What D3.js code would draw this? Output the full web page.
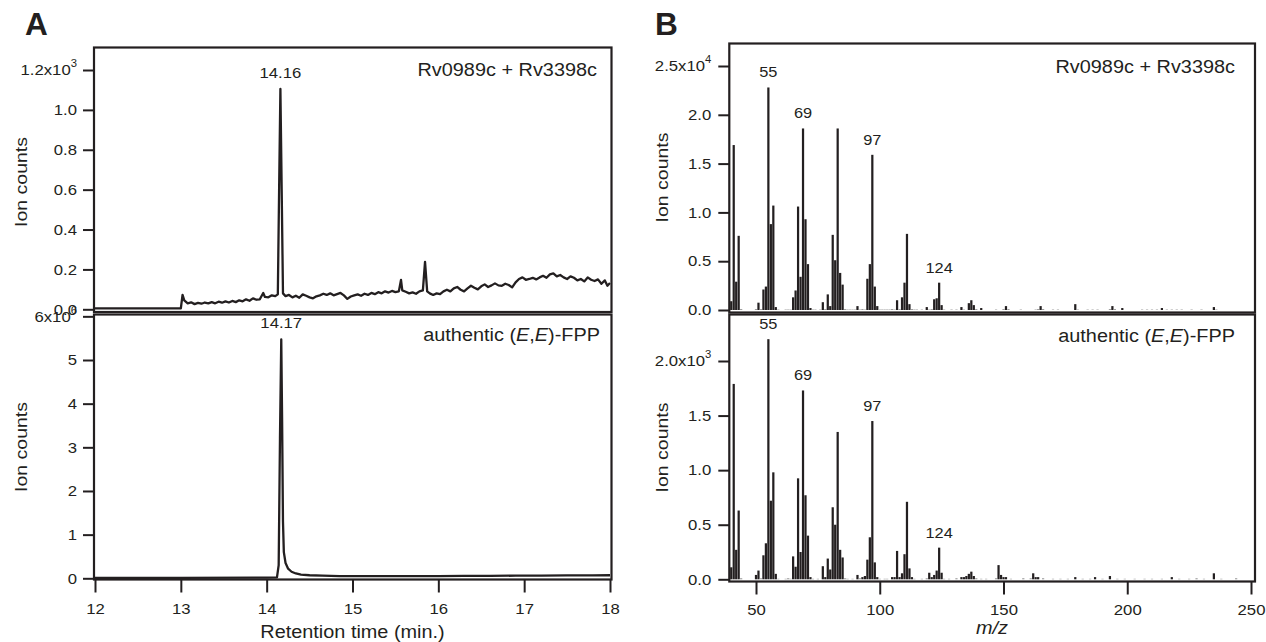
<!DOCTYPE html>
<html><head><meta charset="utf-8">
<script src="https://cdn.jsdelivr.net/npm/d3@7"></script>
<style>body{margin:0;background:#fff}</style>
</head><body>
<svg id="c" width="1266" height="642"></svg>
<script>
// ---------- DATA ----------
// Panel A: chromatograms [retention time (min), ion counts]
const traceRv = [[12.00,0.005],[13.00,0.005],[13.02,0.072],[13.04,0.045],[13.08,0.03],[13.12,0.035],[13.16,0.026],[13.20,0.032],[13.24,0.028],[13.28,0.034],[13.32,0.03],[13.36,0.036],[13.40,0.03],[13.44,0.038],[13.48,0.033],[13.52,0.04],[13.56,0.034],[13.60,0.042],[13.64,0.036],[13.68,0.045],[13.72,0.04],[13.76,0.05],[13.80,0.043],[13.84,0.055],[13.88,0.048],[13.92,0.05],[13.96,0.082],[13.98,0.062],[14.02,0.06],[14.06,0.07],[14.10,0.066],[14.13,0.075],[14.145,0.6],[14.16,1.105],[14.175,0.6],[14.19,0.08],[14.22,0.066],[14.26,0.072],[14.30,0.06],[14.34,0.068],[14.38,0.058],[14.42,0.075],[14.46,0.068],[14.50,0.06],[14.54,0.055],[14.58,0.065],[14.62,0.07],[14.66,0.078],[14.70,0.072],[14.74,0.08],[14.78,0.07],[14.82,0.076],[14.86,0.082],[14.90,0.07],[14.94,0.052],[14.98,0.064],[15.02,0.07],[15.06,0.075],[15.10,0.068],[15.14,0.078],[15.18,0.072],[15.22,0.082],[15.26,0.076],[15.30,0.086],[15.34,0.08],[15.38,0.09],[15.42,0.084],[15.46,0.092],[15.50,0.086],[15.54,0.09],[15.565,0.147],[15.58,0.095],[15.62,0.088],[15.66,0.08],[15.70,0.085],[15.74,0.078],[15.78,0.09],[15.82,0.095],[15.845,0.238],[15.87,0.09],[15.90,0.08],[15.94,0.072],[15.98,0.08],[16.02,0.076],[16.06,0.09],[16.10,0.098],[16.14,0.09],[16.18,0.105],[16.22,0.112],[16.26,0.098],[16.30,0.09],[16.34,0.105],[16.38,0.118],[16.42,0.108],[16.46,0.1],[16.50,0.115],[16.54,0.125],[16.58,0.112],[16.62,0.12],[16.66,0.13],[16.70,0.12],[16.74,0.118],[16.78,0.128],[16.82,0.122],[16.86,0.11],[16.90,0.135],[16.94,0.152],[16.98,0.16],[17.02,0.148],[17.06,0.152],[17.10,0.158],[17.14,0.15],[17.18,0.16],[17.22,0.168],[17.26,0.158],[17.30,0.175],[17.34,0.18],[17.38,0.165],[17.42,0.172],[17.46,0.16],[17.50,0.152],[17.54,0.165],[17.58,0.158],[17.62,0.145],[17.66,0.152],[17.70,0.14],[17.74,0.16],[17.78,0.148],[17.82,0.142],[17.86,0.15],[17.90,0.128],[17.94,0.145],[17.97,0.118],[18.00,0.132]];
const traceStd = [[12.00,0.012],[13.00,0.012],[14.00,0.015],[14.12,0.02],[14.14,0.3],[14.155,3.2],[14.17,5.47],[14.18,3.6],[14.19,1.3],[14.20,0.6],[14.22,0.35],[14.25,0.22],[14.29,0.15],[14.34,0.11],[14.40,0.085],[14.50,0.07],[14.65,0.06],[14.85,0.052],[15.10,0.05],[15.40,0.048],[15.70,0.05],[16.00,0.052],[16.30,0.055],[16.60,0.056],[16.90,0.06],[17.20,0.062],[17.50,0.065],[17.80,0.068],[18.00,0.07]];
const peakTimes = [14.16, 14.17];

// Panel B: mass spectra [m/z, ion counts]
const specRv = [[40,0.09],[41,1.69],[42,0.29],[43,0.76],[44,0.01],[50,0.01],[51,0.075],[52,0.01],[53,0.21],[54,0.24],[55,2.28],[56,0.88],[57,1.07],[58,0.03],[59,0.005],[62,0.005],[63,0.005],[64,0.005],[65,0.13],[66,0.20],[67,1.06],[68,0.34],[69,1.86],[70,0.93],[71,0.47],[72,0.02],[73,0.005],[74,0.005],[76,0.005],[77,0.08],[78,0.01],[79,0.16],[80,0.04],[81,0.77],[82,0.51],[83,1.86],[84,0.38],[85,0.26],[86,0.01],[87,0.005],[88,0.005],[89,0.005],[90,0.005],[91,0.04],[92,0.005],[93,0.01],[94,0.005],[95,0.32],[96,0.47],[97,1.59],[98,0.24],[99,0.04],[100,0.005],[101,0.005],[102,0.005],[103,0.005],[104,0.005],[105,0.01],[106,0.005],[107,0.10],[108,0.01],[109,0.13],[110,0.28],[111,0.78],[112,0.06],[113,0.01],[114,0.005],[115,0.005],[117,0.005],[119,0.03],[120,0.005],[121,0.01],[122,0.11],[123,0.12],[124,0.28],[125,0.05],[126,0.005],[129,0.005],[131,0.005],[133,0.03],[134,0.005],[136,0.07],[137,0.10],[138,0.05],[139,0.01],[141,0.02],[147,0.005],[150,0.01],[151,0.04],[152,0.01],[157,0.005],[163,0.005],[164,0.01],[165,0.04],[166,0.01],[170,0.005],[172,0.005],[179,0.06],[180,0.005],[184,0.005],[186,0.005],[188,0.005],[193,0.01],[194,0.04],[195,0.01],[198,0.02],[206,0.005],[208,0.005],[210,0.005],[212,0.005],[214,0.02],[216,0.005],[218,0.005],[220,0.005],[222,0.005],[226,0.005],[230,0.005],[235,0.03],[236,0.005]];
const specStd = [[40,0.11],[41,1.79],[42,0.27],[43,0.63],[44,0.01],[50,0.04],[51,0.08],[52,0.01],[53,0.22],[54,0.33],[55,2.20],[56,0.72],[57,0.98],[58,0.05],[59,0.005],[62,0.005],[63,0.01],[64,0.005],[65,0.21],[66,0.115],[67,0.925],[68,0.25],[69,1.73],[70,0.77],[71,0.40],[72,0.02],[73,0.005],[75,0.005],[77,0.12],[78,0.02],[79,0.19],[80,0.09],[81,0.66],[82,0.50],[83,1.35],[84,0.27],[85,0.20],[86,0.01],[87,0.005],[89,0.005],[91,0.04],[92,0.01],[93,0.02],[94,0.03],[95,0.18],[96,0.385],[97,1.45],[98,0.155],[99,0.02],[100,0.005],[102,0.005],[103,0.005],[105,0.02],[106,0.02],[107,0.26],[108,0.02],[109,0.055],[110,0.23],[111,0.71],[112,0.10],[113,0.02],[114,0.005],[117,0.005],[119,0.01],[120,0.06],[121,0.02],[122,0.04],[123,0.08],[124,0.29],[125,0.06],[126,0.005],[128,0.005],[131,0.01],[133,0.02],[134,0.02],[135,0.03],[136,0.05],[137,0.07],[138,0.03],[139,0.01],[141,0.005],[143,0.005],[147,0.01],[148,0.13],[149,0.04],[150,0.02],[151,0.02],[153,0.005],[158,0.01],[161,0.01],[162,0.055],[163,0.02],[164,0.02],[166,0.01],[170,0.005],[173,0.005],[176,0.005],[179,0.02],[182,0.005],[185,0.005],[187,0.02],[190,0.005],[193,0.03],[196,0.005],[199,0.005],[203,0.005],[207,0.005],[210,0.005],[214,0.005],[218,0.02],[221,0.005],[225,0.005],[228,0.01],[231,0.005],[235,0.055],[238,0.005],[244,0.01]];
const labelMz = [55, 69, 97, 124];

// Ticks
const timeTicks = [12, 13, 14, 15, 16, 17, 18];
const mzTicks = [50, 100, 150, 200, 250];
const yTicksRvA = [0, 0.2, 0.4, 0.6, 0.8, 1.0, 1.2];
const yTicksStdA = [0, 1, 2, 3, 4, 5, 6];
const yTicksRvB = [0, 0.5, 1.0, 1.5, 2.0, 2.5];
const yTicksStdB = [0, 0.5, 1.0, 1.5, 2.0];
const exponents = {rvA: "3", stdA: "6", rvB: "4", stdB: "3"};
const titleRv = "Rv0989c + Rv3398c";
const titleStd = [{t:"authentic ("},{t:"E",i:1},{t:","},{t:"E",i:1},{t:")-FPP"}];

// ---------- DRAWING ----------
const svg = d3.select("#c");
const INK = "#231f20", SX = 1.13;
const FONT = '"Liberation Sans", Arial, Helvetica, sans-serif';

function txt(g, x, y, s, size, anchor, opts = {}) {
  const t = g.append("text")
    .attr("transform", `translate(${x},${y})${opts.rotate ? " rotate(-90)" : ""} scale(${opts.sx ?? SX},1)`)
    .attr("text-anchor", anchor).attr("fill", INK)
    .style("font-size", size + "px").style("font-family", FONT);
  if (opts.bold) t.style("font-weight", "bold");
  if (opts.italic) t.style("font-style", "italic");
  if (Array.isArray(s)) s.forEach(p => t.append("tspan").style("font-style", p.i ? "italic" : "normal").text(p.t));
  else t.text(s);
  return t;
}

function yAxis(x, scale, ticks, exp, size, pad) {
  const top = d3.max(ticks);
  const fmt = ticks.every(Number.isInteger) ? d3.format("d") : d3.format(".1f");
  const ax = svg.append("g").attr("transform", `translate(${x},0)`)
    .call(d3.axisLeft(scale).tickValues(ticks).tickSize(size).tickPadding(pad).tickFormat(fmt));
  ax.select(".domain").remove();
  ax.selectAll(".tick line").attr("stroke", INK).attr("stroke-width", 2);
  ax.selectAll(".tick text").attr("fill", INK)
    .style("font-size", "14.8px").style("font-family", FONT)
    .attr("x", -(size + pad) / SX).attr("transform", `scale(${SX},1)`)
    .each(function (d) {
      if (d === top) {
        const t = d3.select(this); t.text(null);
        t.append("tspan").text(fmt(d) + "x10");
        t.append("tspan").attr("dy", -8).style("font-size", "10px").text(exp);
      }
    });
}

function xAxis(y, scale, ticks, size, pad) {
  const ax = svg.append("g").attr("transform", `translate(0,${y})`)
    .call(d3.axisBottom(scale).tickValues(ticks).tickSize(size).tickPadding(pad).tickFormat(d3.format("d")));
  ax.select(".domain").remove();
  ax.selectAll(".tick line").attr("stroke", INK).attr("stroke-width", 2);
  ax.selectAll(".tick text").attr("fill", INK)
    .style("font-size", "14.8px").style("font-family", FONT)
    .attr("transform", `scale(${SX},1)`);
}

function frame(x0, x1, y0, y1) {
  svg.append("rect").attr("x", x0).attr("y", y0).attr("width", x1 - x0).attr("height", y1 - y0)
    .attr("fill", "none").attr("stroke", INK).attr("stroke-width", 2.2);
}

// ---- Panel A ----
const xA = d3.scaleLinear().domain([12, 18]).range([95, 610]);
const yA1 = d3.scaleLinear().domain([0, 1.2]).range([309.3, 70]);
const yA2 = d3.scaleLinear().domain([0, 5]).range([578.3, 360]);

const lineA1 = d3.line().x(d => xA(d[0])).y(d => yA1(d[1]));
const lineA2 = d3.line().x(d => xA(d[0])).y(d => yA2(d[1]));
svg.append("path").datum(traceRv).attr("d", lineA1).attr("fill", "none")
  .attr("stroke", INK).attr("stroke-width", 2.3).attr("stroke-linejoin", "round");
svg.append("path").datum(traceStd).attr("d", lineA2).attr("fill", "none")
  .attr("stroke", INK).attr("stroke-width", 2.3).attr("stroke-linejoin", "round");

frame(94, 611.5, 47.5, 312);
frame(94, 611.5, 314.5, 579.5);

yAxis(94, yA1, yTicksRvA, exponents.rvA, 11, 6);
yAxis(94, yA2, yTicksStdA, exponents.stdA, 11, 6);
xAxis(579.5, xA, timeTicks, 13, 11);

// peak labels
[[traceRv, yA1, peakTimes[0]], [traceStd, yA2, peakTimes[1]]].forEach(([tr, ys, pt]) => {
  const pk = d3.greatest(tr, d => d[1]);
  txt(svg, xA(pt), ys(pk[1]) - 11, pt.toFixed(2), 14.8, "middle");
});

txt(svg, 597, 76, titleRv, 17.6, "end");
txt(svg, 600, 341, titleStd, 17.6, "end");
txt(svg, 27, 182, "Ion counts", 17.3, "middle", {rotate: true});
txt(svg, 27, 447, "Ion counts", 17.3, "middle", {rotate: true});
txt(svg, 352.5, 638, "Retention time (min.)", 17.6, "middle");
txt(svg, 25, 35, "A", 31, "start", {bold: true, sx: 1.02});

// ---- Panel B ----
const xB = d3.scaleLinear().domain([50, 250]).range([756, 1251]);
const yB1 = d3.scaleLinear().domain([0, 2.5]).range([310, 66]);
const yB2 = d3.scaleLinear().domain([0, 2.0]).range([579.3, 361]);
const barW = (xB(51) - xB(50)) * 0.9;

function bars(data, ys) {
  svg.append("g").selectAll("rect").data(data).join("rect")
    .attr("x", d => xB(d[0]) - barW / 2)
    .attr("y", d => ys(d[1]))
    .attr("width", barW)
    .attr("height", d => ys(0) - ys(d[1]))
    .attr("fill", d => (ys(0) - ys(d[1]) < 1.3 ? "#9c9c9c" : INK));
}
bars(specRv, yB1);
bars(specStd, yB2);

frame(729.3, 1255, 43.5, 312.5);
frame(729.3, 1255, 314.5, 581.5);

yAxis(729.3, yB1, yTicksRvB, exponents.rvB, 11, 7);
yAxis(729.3, yB2, yTicksStdB, exponents.stdB, 11, 7);
xAxis(581.5, xB, mzTicks, 13, 10);

[[specRv, yB1], [specStd, yB2]].forEach(([sp, ys]) => {
  labelMz.forEach(m => {
    const v = sp.find(d => d[0] === m)[1];
    txt(svg, xB(m), ys(v) - 10, String(m), 14.5, "middle");
  });
});

txt(svg, 1235, 73, titleRv, 17.6, "end");
txt(svg, 1235, 342, titleStd, 17.6, "end");
txt(svg, 668, 177.5, "Ion counts", 17.3, "middle", {rotate: true});
txt(svg, 668, 447.5, "Ion counts", 17.3, "middle", {rotate: true});
txt(svg, 992, 634, "m/z", 17.6, "middle", {italic: true});
txt(svg, 655, 35, "B", 31, "start", {bold: true, sx: 1.02});
</script>
</body></html>
